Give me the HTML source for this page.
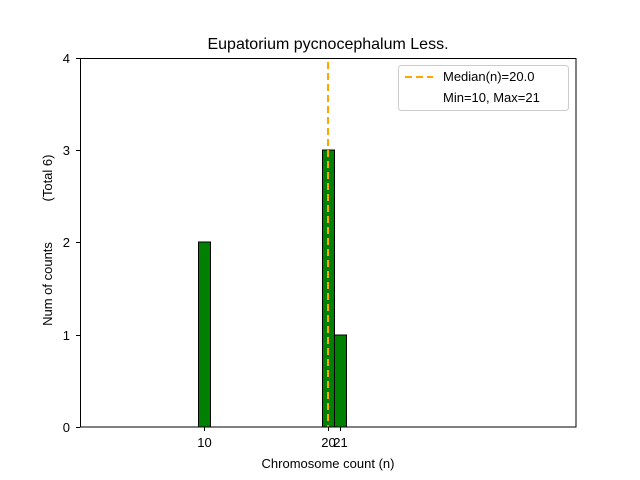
<!DOCTYPE html>
<html><head><style>body{margin:0;background:#fff}svg{display:block}</style></head><body>
<svg width="640" height="480" xmlns="http://www.w3.org/2000/svg" font-family="Liberation Sans, DejaVu Sans, sans-serif">
<rect width="640" height="480" fill="#fff"/>
<line x1="80" y1="427" x2="383" y2="427" stroke="#000" stroke-width="1"/>
<rect x="198.5" y="242" width="12" height="185" fill="#008000" stroke="#000" stroke-width="1"/>
<rect x="322.5" y="150" width="12" height="277" fill="#008000" stroke="#000" stroke-width="1"/>
<rect x="334.5" y="335" width="12" height="92" fill="#008000" stroke="#000" stroke-width="1"/>
<line x1="328" y1="62" x2="328" y2="427" stroke="#FFA500" stroke-width="2" stroke-dasharray="7,4"/>
<rect x="80.5" y="58.5" width="495.5" height="368.5" fill="none" stroke="#000" stroke-width="1"/>
<g stroke="#000">
<line x1="204.5" y1="427" x2="204.5" y2="431"/><line x1="328.5" y1="427" x2="328.5" y2="431"/><line x1="340.5" y1="427" x2="340.5" y2="431"/>
<line x1="76" y1="427.5" x2="80" y2="427.5"/><line x1="76" y1="335.5" x2="80" y2="335.5"/><line x1="76" y1="242.5" x2="80" y2="242.5"/><line x1="76" y1="150.5" x2="80" y2="150.5"/><line x1="76" y1="58.5" x2="80" y2="58.5"/>
</g>
<g font-size="13" fill="#000">
<text x="204.5" y="447" text-anchor="middle">10</text>
<text x="328.5" y="447" text-anchor="middle">20</text>
<text x="340.5" y="447" text-anchor="middle">21</text>
<text x="70" y="432" text-anchor="end">0</text>
<text x="70" y="340" text-anchor="end">1</text>
<text x="70" y="247" text-anchor="end">2</text>
<text x="70" y="155" text-anchor="end">3</text>
<text x="70" y="63" text-anchor="end">4</text>
<text x="328" y="468" text-anchor="middle">Chromosome count (n)</text>
<text transform="translate(52,284) rotate(-90)" text-anchor="middle">Num of counts</text>
<text transform="translate(52,178) rotate(-90)" text-anchor="middle">(Total 6)</text>
</g>
<text x="328" y="49" font-size="16" text-anchor="middle">Eupatorium pycnocephalum Less.</text>
<rect x="398.5" y="65.5" width="170" height="45" rx="3" fill="#fff" stroke="#ccc"/>
<line x1="405" y1="77" x2="433" y2="77" stroke="#FFA500" stroke-width="2" stroke-dasharray="7,4"/>
<text x="443" y="81" font-size="13">Median(n)=20.0</text>
<text x="443" y="102" font-size="13">Min=10, Max=21</text>
</svg>
</body></html>
